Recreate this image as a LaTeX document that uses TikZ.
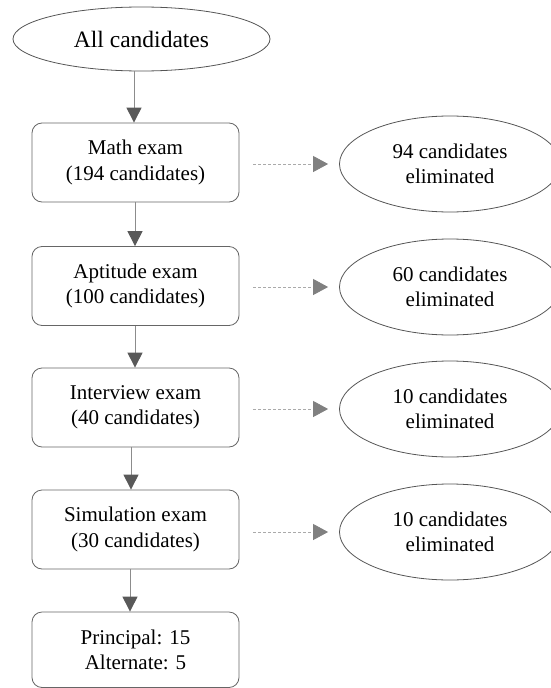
\documentclass[tikz,border=0pt]{standalone}
\usepackage{fontspec}
\setmainfont{Liberation Serif}
\usetikzlibrary{shapes.geometric,arrows.meta,calc}
\definecolor{boxline}{HTML}{666666}
\definecolor{elline}{HTML}{555555}
\definecolor{flowline}{HTML}{8C8C8C}
\definecolor{tipdark}{HTML}{595959}
\definecolor{dashline}{HTML}{AAAAAA}
\definecolor{tiplight}{HTML}{808080}
\begin{document}
\begin{tikzpicture}[x=1pt,y=-1pt,
  exambox/.style={draw=boxline,line width=0.8pt,rounded corners=10pt,minimum width=207pt,minimum height=79pt,align=center,font=\fontsize{21}{25.5}\selectfont,inner sep=0pt},
  outell/.style={draw=elline,ellipse,line width=0.8pt,minimum width=221pt,minimum height=96pt,align=center,font=\fontsize{21}{25}\selectfont,inner sep=0pt},
  startell/.style={draw=elline,ellipse,line width=0.8pt,minimum width=257pt,minimum height=64pt,align=center,font=\fontsize{23.5}{28}\selectfont,inner sep=0pt},
  flow/.style={draw=flowline,line width=1pt,-{Triangle[length=15pt,width=15pt,color=tipdark]}},
  elim/.style={draw=dashline,dash pattern=on 3pt off 2pt,line width=0.8pt,-{Triangle[length=15pt,width=16pt,color=tiplight]}}]
\useasboundingbox (0,0) rectangle (551,688);
\clip (0,0) rectangle (551,688);

\node[startell] (all) at (141.5,39) {All candidates};
\node[exambox] (math) at (135.5,162.5) {Math exam\\(194 candidates)};
\node[exambox] (apt) at (135.5,286) {Aptitude exam\\(100 candidates)};
\node[exambox] (int) at (135.5,407.5) {Interview exam\\(40 candidates)};
\node[exambox] (sim) at (135.5,529.5) {Simulation exam\\(30 candidates)};
\node[exambox,minimum height=75.5pt] (final) at (135.5,649.75) {Principal: 15\\Alternate: 5};

\node[outell] (e1) at (450,164) {94 candidates\\eliminated};
\node[outell] (e2) at (450,287) {60 candidates\\eliminated};
\node[outell] (e3) at (450,409) {10 candidates\\eliminated};
\node[outell] (e4) at (450,532) {10 candidates\\eliminated};

\draw[flow] ([xshift=-1.5pt]all.south -| math.north) -- ([xshift=-1.5pt]math.north);
\draw[flow] ([xshift=-0.5pt]math.south) -- ([xshift=-0.5pt]apt.north);
\draw[flow] ([xshift=-0.5pt]apt.south) -- ([xshift=-0.5pt]int.north);
\draw[flow] ([xshift=-4.5pt]int.south) -- ([xshift=-4.5pt]sim.north);
\draw[flow] ([xshift=-5.5pt]sim.south) -- ([xshift=-5.5pt]final.north);

\draw[elim,shorten <=14pt,shorten >=11pt] (math.east |- e1.west) -- (e1.west);
\draw[elim,shorten <=14pt,shorten >=11pt] (apt.east |- e2.west) -- (e2.west);
\draw[elim,shorten <=14pt,shorten >=11pt] (int.east |- e3.west) -- (e3.west);
\draw[elim,shorten <=14pt,shorten >=11pt] (sim.east |- e4.west) -- (e4.west);
\end{tikzpicture}
\end{document}
